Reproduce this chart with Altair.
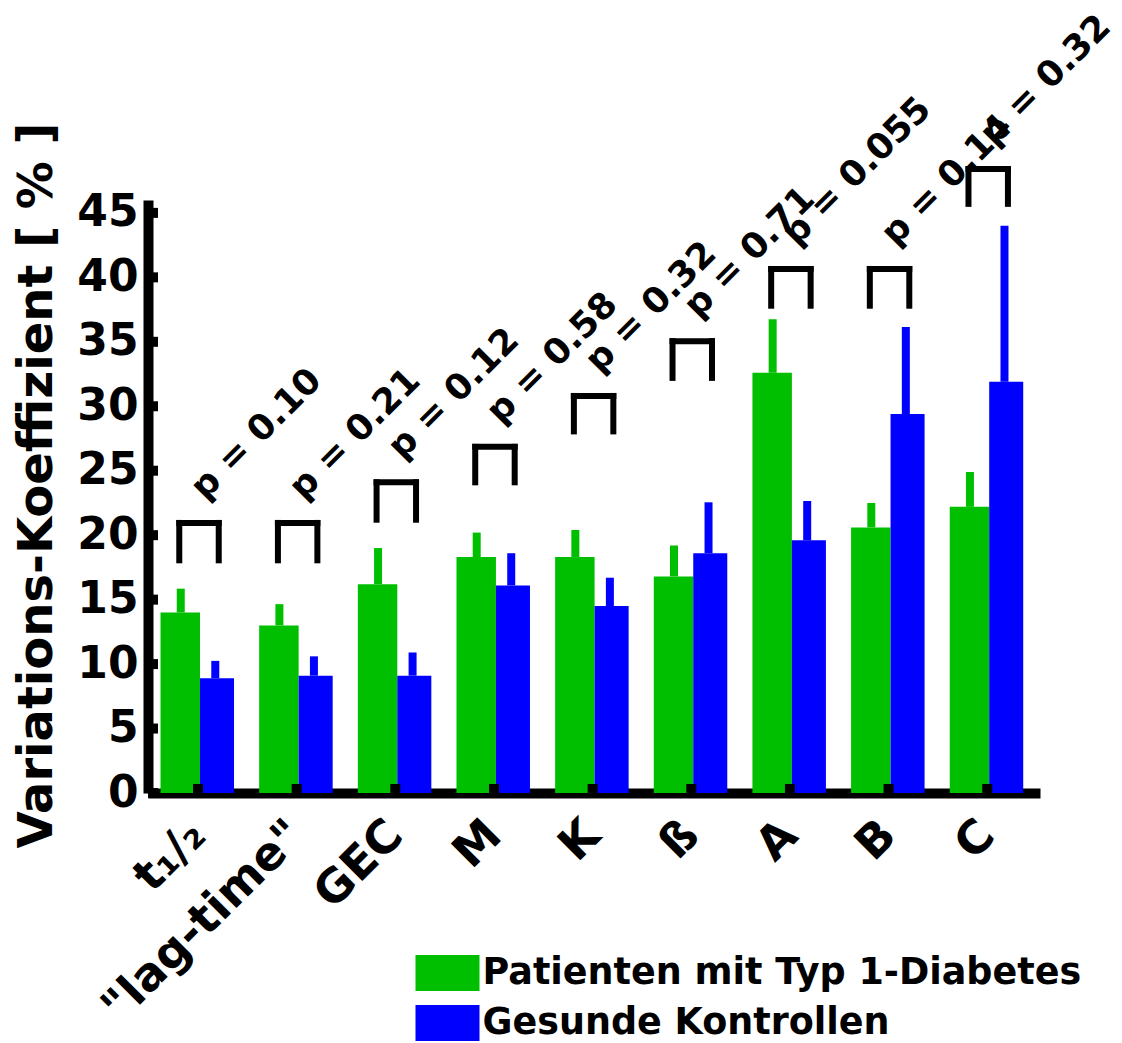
import altair as alt
import pandas as pd

categories = ["t₁/₂", '"lag-time"', "GEC", "M", "K", "ß", "A", "B", "C"]
series = ["Patienten mit Typ 1-Diabetes", "Gesunde Kontrollen"]
colors = ["#00bf00", "#0000ff"]
patients_mean = [14.0, 13.0, 16.2, 18.3, 18.3, 16.8, 32.6, 20.6, 22.2]
patients_err_top = [15.85, 14.65, 19.0, 20.2, 20.4, 19.2, 36.75, 22.5, 24.9]
controls_mean = [8.9, 9.1, 9.1, 16.1, 14.5, 18.6, 19.6, 29.4, 31.9]
controls_err_top = [10.25, 10.6, 10.9, 18.6, 16.7, 22.55, 22.65, 36.15, 44.0]
p_labels = ["p = 0.10", "p = 0.21", "p = 0.12", "p = 0.58", "p = 0.32",
            "p = 0.71", "p = 0.055", "p = 0.14", "p = 0.32"]
bracket_top = [20.95, 20.95, 24.1, 26.85, 30.8, 35.05, 40.65, 40.65, 48.4]
bracket_bottom = [18.05, 18.05, 21.2, 24.1, 28.05, 32.2, 37.8, 37.8, 45.7]
y_ticks = [0, 5, 10, 15, 20, 25, 30, 35, 40, 45]

# layout constants (group-relative offsets in category units)
G_LEFT, G_MID, B_RIGHT = -0.38, 0.02, 0.365
ERR_G, ERR_B = -0.175, 0.175
BR_L, BR_R = -0.19, 0.21
W, H = 892, 593
FONT = "DejaVu Sans"

bars, errs, brk, ptxt, gticks = [], [], [], [], []
for i in range(len(categories)):
    bars.append(dict(s=series[0], x0=i + G_LEFT, x1=i + G_MID, v=patients_mean[i], z=0))
    bars.append(dict(s=series[1], x0=i + G_MID, x1=i + B_RIGHT, v=controls_mean[i], z=0))
    errs.append(dict(x0=i + ERR_G, v=patients_mean[i], y2=patients_err_top[i], c=colors[0]))
    errs.append(dict(x0=i + ERR_B, v=controls_mean[i], y2=controls_err_top[i], c=colors[1]))
    t, b = bracket_top[i], bracket_bottom[i]
    brk.append(dict(x0=i + BR_L, x2=i + BR_R, v=t, y2=t))
    brk.append(dict(x0=i + BR_L, x2=i + BR_L, v=t, y2=b))
    brk.append(dict(x0=i + BR_R, x2=i + BR_R, v=t, y2=b))
    ptxt.append(dict(x0=i + 0.07, v=t + 1.7, t=p_labels[i]))
    gticks.append(dict(x0=i))

bars = pd.DataFrame(bars)
errs = pd.DataFrame(errs)
brk = pd.DataFrame(brk)
ptxt = pd.DataFrame(ptxt)
gticks = pd.DataFrame(gticks)
yt = pd.DataFrame(dict(v=y_ticks))

xscale = alt.Scale(domain=[-0.507, 8.535], nice=False, zero=False)
yscale = alt.Scale(domain=[0, 46], nice=False, zero=False)

label_expr = "[" + ",".join("'" + c + "'" for c in categories) + "][datum.value]"

xaxis = alt.Axis(
    values=list(range(len(categories))), labelExpr=label_expr, title=None,
    labelAngle=315, labelAlign="right", labelBaseline="top", labelFontSize=46,
    labelPadding=19, labelOffset=-16, labelOverlap=False, labelFlush=False,
    labelBound=False, labelLimit=600)
yaxis = alt.Axis(
    values=y_ticks, title="Variations-Koeffizient [ % ]", labelPadding=10,
    titleAngle=270, titleAlign="center", titleBaseline="middle",
    titleX=-111, titleY=285, titleFontSize=48, titleFont=FONT,
    titleFontWeight="bold", titleColor="black", titleLimit=1000)


def X(field):
    return alt.X(field, scale=xscale, axis=xaxis)


def Y(field):
    return alt.Y(field, scale=yscale, axis=yaxis)


bar_layer = alt.Chart(bars).mark_bar(strokeWidth=0).encode(
    x=X("x0:Q"),
    x2="x1:Q",
    y=Y("v:Q"),
    y2="z:Q",
    color=alt.Color("s:N", scale=alt.Scale(domain=series, range=colors),
                    legend=alt.Legend(title=None, orient="none", legendX=279.5, legendY=753,
                                      symbolType="M-1.6,-0.9L1.6,-0.9L1.6,0.9L-1.6,0.9Z",
                                      symbolSize=1600, symbolStrokeWidth=0,
                                      labelFont=FONT, labelFontSize=36.5, labelFontWeight="bold",
                                      labelColor="black", labelOffset=15, rowPadding=11,
                                      padding=0, labelLimit=1000)),
)

err_layer = alt.Chart(errs).mark_rule(strokeWidth=8, strokeCap="butt").encode(
    x=X("x0:Q"),
    y=Y("v:Q"),
    y2="y2:Q",
    color=alt.Color("c:N", scale=None),
)

brk_layer = alt.Chart(brk).mark_rule(strokeWidth=6, strokeCap="square", color="black").encode(
    x=X("x0:Q"),
    x2="x2:Q",
    y=Y("v:Q"),
    y2="y2:Q",
)

p_layer = alt.Chart(ptxt).mark_text(angle=315, align="left", baseline="alphabetic",
                                    font=FONT, fontWeight="bold", fontSize=35.5,
                                    color="black").encode(
    x=X("x0:Q"),
    y=Y("v:Q"),
    text="t:N",
)

ytick_layer = alt.Chart(yt).mark_rule(strokeWidth=10, color="black").encode(
    y=Y("v:Q"),
    x=alt.value(0), x2=alt.value(10),
)

xtick_layer = alt.Chart(gticks).mark_rule(strokeWidth=10, color="black").encode(
    x=X("x0:Q"),
    y=alt.value(H - 9), y2=alt.value(H),
)

chart = alt.layer(bar_layer, err_layer, brk_layer, p_layer, ytick_layer, xtick_layer).properties(
    width=W, height=H,
    autosize=alt.AutoSizeParams(type="none"),
    padding={"left": 140, "top": 192, "right": 74, "bottom": 249},
).configure_view(stroke=None).configure_axis(
    domainColor="black", domainWidth=10, domainCap="butt", ticks=False, grid=False,
    labelFont=FONT, labelFontWeight="bold", labelFontSize=44, labelColor="black",
)

chart.save("out.html", embed_options={"renderer": "svg", "actions": False})
